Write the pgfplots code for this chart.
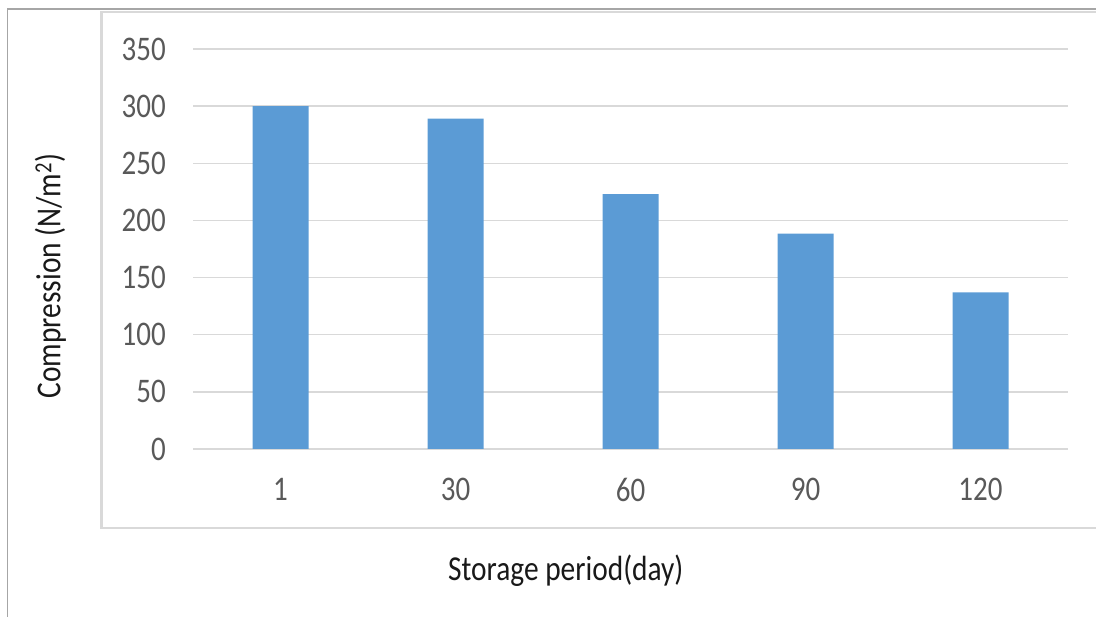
\documentclass[border=0pt]{standalone}
\usepackage{fontspec}
\setmainfont{Carlito}
\newfontfamily\tallfont[FakeStretch=0.84]{Carlito}
\usepackage{pgfplots}
\pgfplotsset{compat=1.18}
\definecolor{barblue}{HTML}{5B9BD5}
\definecolor{gridgray}{HTML}{D9D9D9}
\definecolor{tickgray}{HTML}{595959}
\definecolor{framegray}{HTML}{A6A6A6}
\begin{document}
\begin{tikzpicture}
\path[use as bounding box] (0,0) rectangle (1096pt,617pt);
% outer frame
\draw[framegray, line width=1.2pt] (7.5pt,0pt) -- (7.5pt,608pt) -- (1096pt,608pt);
% inner chart box
\draw[gridgray, line width=2.5pt] (1100pt,89pt) -- (101.5pt,89pt) -- (101.5pt,605pt) -- (1100pt,605pt);
\begin{axis}[
  at={(193pt,168pt)}, anchor=south west,
  scale only axis, width=875pt, height=400pt,
  xmin=-0.5, xmax=4.5, ymin=0, ymax=350,
  enlargelimits=false,
  ybar, bar width=56pt,
  axis line style={draw=none},
  major tick length=0pt,
  xtick={0,1,2,3,4},
  xticklabels={1,30,60,90,120},
  ytick={0,50,...,350},
  ymajorgrids, grid style={gridgray, line width=1.5pt},
  /pgf/number format/assume math mode=true,
  tick label style={font=\tallfont\fontsize{34.5}{40}\selectfont, text=tickgray, inner sep=0pt},
  yticklabel style={anchor=east},
  xticklabel style={anchor=north},
  yticklabel shift=27pt,
  xticklabel shift=29pt,
  label style={font=\tallfont\fontsize{35}{40}\selectfont, text=black!90},
  xlabel={Storage period(day)},
  ylabel={Compression (N/m\textsuperscript{2})},
  xlabel style={at={(axis description cs:0.426,-0.305)}, anchor=center},
  ylabel style={at={(axis description cs:-0.163,0.4325)}, anchor=center},
]
\addplot[fill=barblue, draw=none] coordinates {(0,300) (1,289) (2,223) (3,188.5) (4,137)};
\end{axis}
\end{tikzpicture}
\end{document}
